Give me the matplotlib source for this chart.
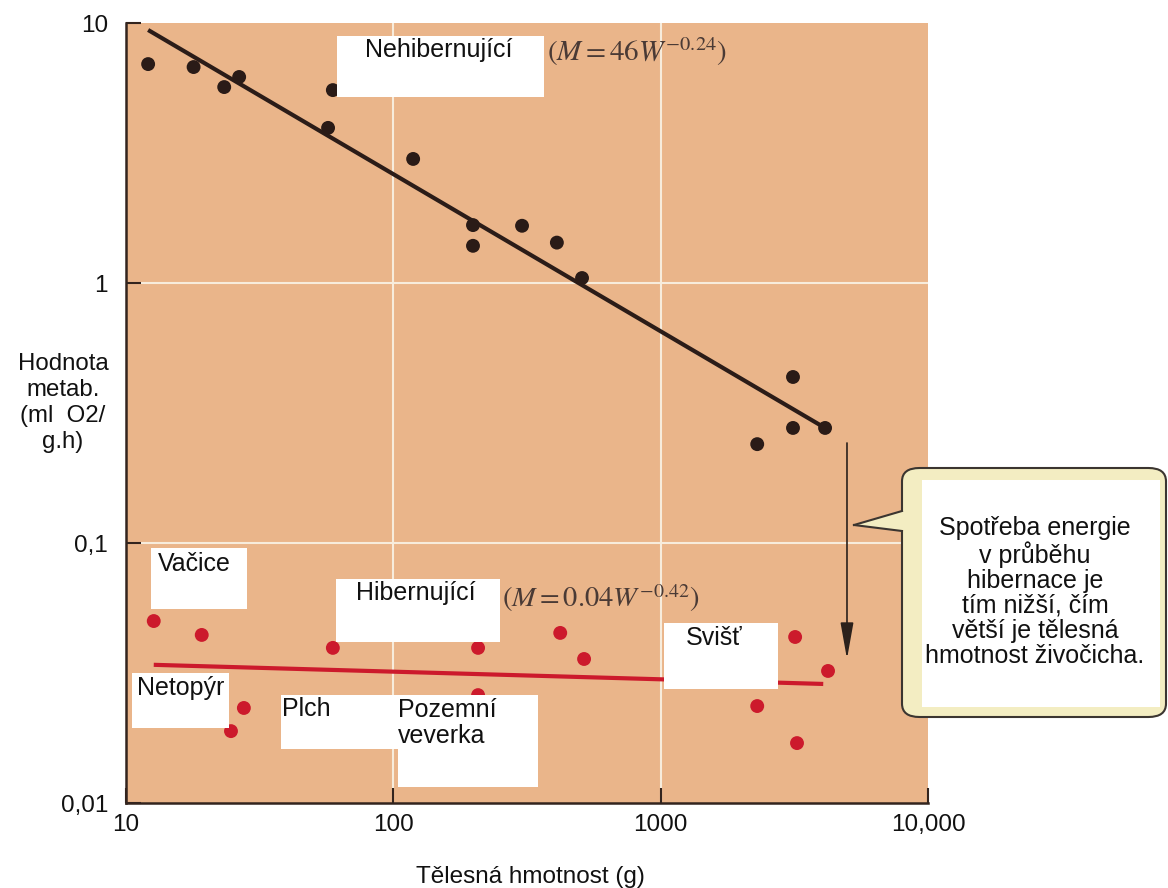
import matplotlib
matplotlib.use("Agg")
import matplotlib.pyplot as plt
from matplotlib.patches import Rectangle, FancyBboxPatch, Polygon
from matplotlib.lines import Line2D

plt.rcParams["font.family"] = ["Liberation Sans", "DejaVu Sans"]
plt.rcParams["mathtext.fontset"] = "stix"

# nehibernujici zivocichove (cerne body)
nonhib_mass = [12.1, 17.9, 23.3, 26.5, 57.0, 59.4, 118.6, 198.6, 198.6, 303, 409, 508, 2297, 3126, 3126, 4121]
nonhib_rate = [6.95, 6.77, 5.67, 6.20, 3.95, 5.52, 3.00, 1.67, 1.39, 1.66, 1.43, 1.045, 0.240, 0.435, 0.277, 0.277]
nonhib_fit_mass = [12.1, 4121]
nonhib_fit_rate = [9.40, 0.277]

# hibernujici zivocichove (cervene body)
hib_mass = [12.7, 19.2, 24.7, 27.6, 59.4, 207.5, 207.5, 421, 517, 2297, 3184, 3236, 4227]
hib_rate = [0.0501, 0.0443, 0.0189, 0.0232, 0.0395, 0.0395, 0.0260, 0.0451, 0.0358, 0.0236, 0.0435, 0.0170, 0.0322]
hib_fit_mass = [12.7, 4056]
hib_fit_rate = [0.0340, 0.0287]

# sipka "spotreba energie"
arrow_mass = 4977
arrow_rate = [0.2425, 0.0358]

x_ticks = [10, 100, 1000, 10000]
x_ticklabels = ["10", "100", "1000", "10,000"]
y_ticks = [0.01, 0.1, 1, 10]
y_ticklabels = ["0,01", "0,1", "1", "10"]

W, H = 1168, 888
BG = "#eab58a"
DARK = "#33241e"
RED = "#cc1a2c"


def fx(px):
    return px / W


def fy(py):
    return 1 - py / H


def white_box(ax, fig, x0, y0, x1, y1):
    # bily obdelnik v pixelech obrazku
    r = Rectangle((fx(x0), fy(y1)), fx(x1) - fx(x0), fy(y0) - fy(y1),
                  transform=fig.transFigure, facecolor="white", edgecolor="none",
                  zorder=5, clip_on=False)
    ax.add_patch(r)


def label(ax, fig, x, y, s, size=18, **kw):
    ax.text(fx(x), fy(y), s, transform=fig.transFigure, fontsize=size,
            ha="left", va="center", color="#111111", zorder=6, clip_on=False, **kw)


fig = plt.figure(figsize=(W / 100, H / 100), dpi=100)
ax = fig.add_axes([fx(126), fy(803), fx(928) - fx(126), fy(23) - fy(803)])
ax.set_facecolor(BG)
ax.set_xscale("log")
ax.set_yscale("log")
ax.set_xlim(10, 10000)
ax.set_ylim(0.01, 10)

# mrizka
for v in [100, 1000]:
    ax.axvline(v, color="#f7ecdc", lw=1.5, zorder=1)
for v in [0.1, 1]:
    ax.axhline(v, color="#f7ecdc", lw=1.5, zorder=1)

ax.plot(nonhib_fit_mass, nonhib_fit_rate, color="#2b1c18", lw=3, zorder=3, solid_capstyle="butt")
ax.plot(hib_fit_mass, hib_fit_rate, color=RED, lw=3, zorder=3, solid_capstyle="butt")
ax.scatter(nonhib_mass, nonhib_rate, s=100, color="#2a1b17", edgecolors="none", zorder=4)
ax.scatter(hib_mass, hib_rate, s=100, color=RED, edgecolors="none", zorder=4)

ax.annotate("", xy=(arrow_mass, arrow_rate[1]), xytext=(arrow_mass, arrow_rate[0]),
            arrowprops=dict(arrowstyle="-|>,head_length=1.4,head_width=0.25",
                            color="#2b211c", lw=1.2, mutation_scale=16, shrinkA=0, shrinkB=0),
            zorder=4)

ax.set_xticks(x_ticks)
ax.set_xticklabels(x_ticklabels)
ax.set_yticks(y_ticks)
ax.set_yticklabels(y_ticklabels)
ax.minorticks_off()
ax.tick_params(axis="both", direction="in", length=11, width=1.5, color=DARK,
               labelsize=17.5, labelcolor="#111111")
ax.tick_params(axis="y", pad=13)
ax.tick_params(axis="x", pad=8)
for side in ["top", "right"]:
    ax.spines[side].set_visible(False)
for side in ["left", "bottom"]:
    ax.spines[side].set_color(DARK)
    ax.spines[side].set_linewidth(1.8)

ax.set_xlabel("Tělesná hmotnost (g)", fontsize=17.5, va="center", color="#111111")
ax.xaxis.set_label_coords((530 - 126) / 802, (803 - 877) / 780)
ax.set_ylabel("Hodnota\nmetab.\n(ml  O2/\ng.h)", fontsize=17.3, rotation=0,
              ha="center", va="center", multialignment="center", color="#111111",
              linespacing=1.25)
ax.yaxis.set_label_coords((63 - 126) / 802, (803 - 403) / 780)

# popisky v bilych rameckach
white_box(ax, fig, 337, 36, 544, 97)
label(ax, fig, 365, 50, "Nehibernující")
white_box(ax, fig, 151, 548, 247, 609)
label(ax, fig, 158, 564, "Vačice")
white_box(ax, fig, 336, 579, 500, 642)
label(ax, fig, 356, 593, "Hibernující")
white_box(ax, fig, 132, 673, 229, 728)
label(ax, fig, 137, 688, "Netopýr")
white_box(ax, fig, 281, 695, 398, 749)
label(ax, fig, 282, 709, "Plch")
white_box(ax, fig, 398, 695, 538, 787)
label(ax, fig, 398, 723, "Pozemní\nveverka", linespacing=1.15)
white_box(ax, fig, 664, 623, 778, 689)
label(ax, fig, 686, 638, "Svišť")

# rovnice
ax.text(fx(547), fy(52), r"$(M = 46W^{-0.24})$", transform=fig.transFigure,
        fontsize=21, ha="left", va="center", color="#4a3a35", zorder=6)
ax.text(fx(502), fy(598), r"$(M = 0.04W^{-0.42})$", transform=fig.transFigure,
        fontsize=20.5, ha="left", va="center", color="#4a3a35", zorder=6)

# bublina s komentarem
bubble = FancyBboxPatch((fx(902), fy(717)), fx(1166) - fx(902), fy(468) - fy(717),
                        boxstyle="round,pad=0,rounding_size=0.015",
                        transform=fig.transFigure, facecolor="#f3edc2",
                        edgecolor="#3b3530", lw=1.5, zorder=7, clip_on=False)
ax.add_patch(bubble)
tail = Polygon([(fx(904), fy(511)), (fx(854), fy(525)), (fx(904), fy(531))],
               closed=True, transform=fig.transFigure, facecolor="#f3edc2",
               edgecolor="none", zorder=7.5, clip_on=False)
ax.add_patch(tail)
for p in [(511, 525), (531, 525)]:
    ax.add_line(Line2D([fx(902), fx(854)], [fy(p[0]), fy(p[1])], transform=fig.transFigure,
                       color="#3b3530", lw=1.5, zorder=7.6, clip_on=False))
inner = Rectangle((fx(922), fy(707)), fx(1160) - fx(922), fy(480) - fy(707),
                  transform=fig.transFigure, facecolor="white", edgecolor="none",
                  zorder=8, clip_on=False)
ax.add_patch(inner)
ax.text(fx(1035), fy(592),
        "Spotřeba energie\nv průběhu\nhibernace je\ntím nižší, čím\nvětší je tělesná\nhmotnost živočicha.",
        transform=fig.transFigure, fontsize=18, ha="center", va="center",
        multialignment="center", linespacing=1.05, color="#111111", zorder=9)

fig.savefig("out.png", dpi=100, facecolor="white")
